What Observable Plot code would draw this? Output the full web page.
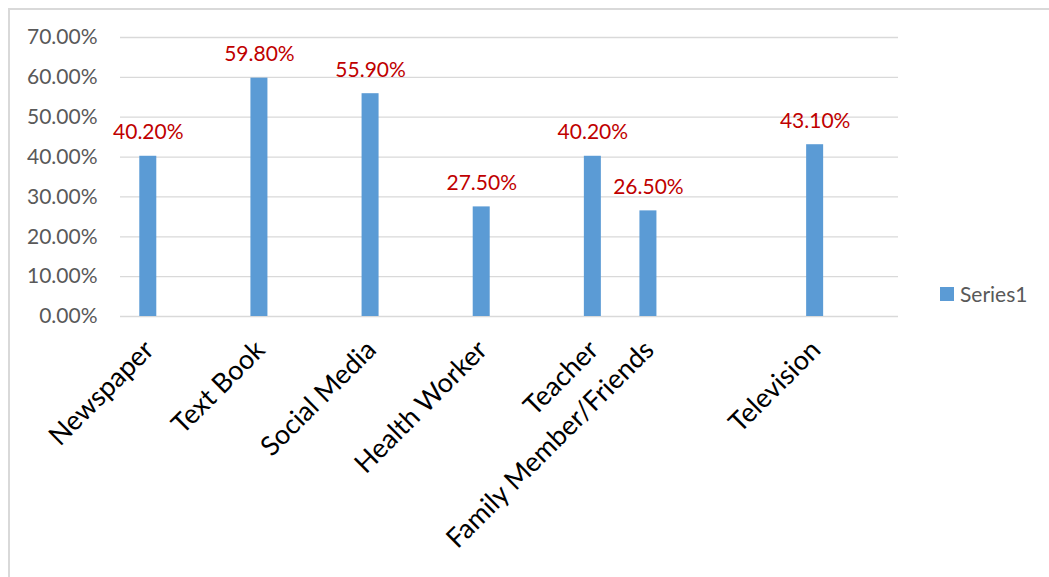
<!DOCTYPE html>
<html>
<head>
<meta charset="utf-8">
<script src="https://cdn.jsdelivr.net/npm/d3@7"></script>
<script src="https://cdn.jsdelivr.net/npm/@observablehq/plot@0.6"></script>
<style>
  html, body { margin: 0; padding: 0; background: #fff; overflow: hidden; }
  #wrap { position: relative; width: 1049px; height: 577px; }
  #frame { position: absolute; left: 8px; top: 8px; width: 1100px; height: 620px;
           border-left: 2px solid #d9d9d9; border-top: 2px solid #d9d9d9; box-sizing: border-box; }
  #legend { position: absolute; left: 940px; top: 281px; font-family: Lato, "Open Sans", sans-serif;
            font-size: 21px; color: #595959; display: flex; align-items: center; }
  #legend .sw { width: 14px; height: 14px; background: #5B9BD5; margin-right: 6px; }
  svg { position: absolute; left: 0; top: 0; }
</style>
</head>
<body>
<div id="wrap">
  <div id="frame"></div>
  <div id="chart"></div>
  <div id="legend"><span class="sw"></span><span id="legendLabel"></span></div>
</div>
<script>
// Category rows as in the source sheet (blank rows kept as empty labels)
const categories = ["Newspaper", "", "Text Book", "", "Social Media", "", "Health Worker", "",
                    "Teacher", "Family Member/Friends", "", "", "Television", ""];
const series1 = [0.402, null, 0.598, null, 0.559, null, 0.275, null,
                 0.402, 0.265, null, null, 0.431, null];
const seriesName = "Series1";
const yTicks = [0, 0.1, 0.2, 0.3, 0.4, 0.5, 0.6, 0.7];

const rows = categories.map((c, i) => ({i, category: c, value: series1[i]}));
const bars = rows.filter(d => d.value != null);
const pct = v => (v * 100).toFixed(2) + "%";

const chart = Plot.plot({
  width: 1049,
  height: 577,
  marginLeft: 120,
  marginRight: 151,
  marginTop: 37,
  marginBottom: 261,
  style: {fontFamily: "Lato, 'Open Sans', sans-serif", background: "transparent"},
  x: {type: "band", domain: rows.map(d => d.i), paddingInner: 0.694, paddingOuter: 0.347, round: false, label: null},
  y: {domain: [0, 0.7], label: null},
  marks: [
    Plot.ruleY(yTicks, {stroke: "#d9d9d9", strokeWidth: 1.3}),
    Plot.axisY({ticks: yTicks, tickFormat: pct, tickSize: 0, tickPadding: 23,
                fontSize: 21, color: "#595959", label: null}),
    Plot.barY(bars, {x: "i", y: "value", fill: "#5B9BD5"}),
    Plot.text(bars, {x: "i", y: "value", text: d => pct(d.value), fill: "#C00000",
                     fontSize: 21, lineAnchor: "bottom", dy: -17}),
    Plot.axisX({tickFormat: i => categories[i], tickRotate: -45, tickSize: 0, tickPadding: 29,
                fontSize: 27, color: "#000", dx: 1, label: null})
  ]
});
document.getElementById("chart").appendChild(chart);
document.getElementById("legendLabel").textContent = seriesName;
</script>
</body>
</html>
